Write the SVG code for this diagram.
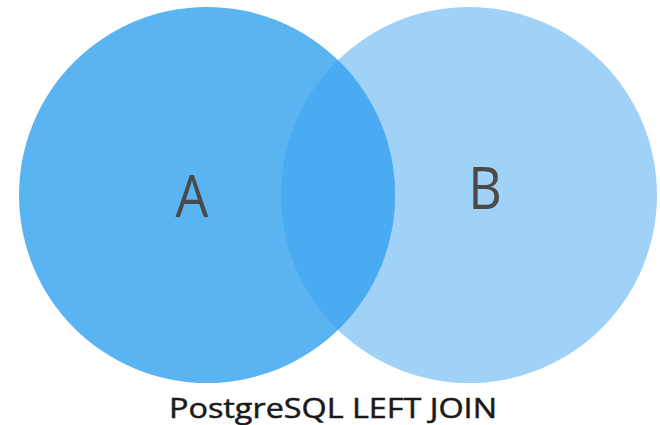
<svg xmlns="http://www.w3.org/2000/svg" width="660" height="425" viewBox="0 0 660 425">
  <style>
    .lbl { font-family: "Open Sans", "DejaVu Sans", sans-serif; fill: #4a4a4a; }
    .big { font-size: 59px; text-anchor: middle; }
    .cap { font-size: 28px; font-weight: 400; fill: #1a1a1a; stroke: #1a1a1a; stroke-width: 0.5; }
  </style>
  <defs>
    <clipPath id="clipA">
      <circle cx="207" cy="195" r="188"/>
    </clipPath>
  </defs>
  <rect width="660" height="425" fill="#ffffff"/>
  <g id="nodeB">
    <circle cx="469" cy="195" r="188" fill="#a0d2f7"/>
  </g>
  <g id="nodeA">
    <circle cx="207" cy="195" r="188" fill="#5bb4f2"/>
  </g>
  <g id="intersection">
    <circle cx="469" cy="195" r="188" fill="#4aabf2" clip-path="url(#clipA)"/>
  </g>
  <g id="labels">
    <text class="lbl big" transform="translate(192,217) scale(0.88,1)">A</text>
    <text class="lbl big" transform="translate(485,209) scale(0.88,1)">B</text>
    <text class="lbl cap" x="169" y="418" textLength="328" lengthAdjust="spacingAndGlyphs">PostgreSQL LEFT JOIN</text>
  </g>
</svg>
